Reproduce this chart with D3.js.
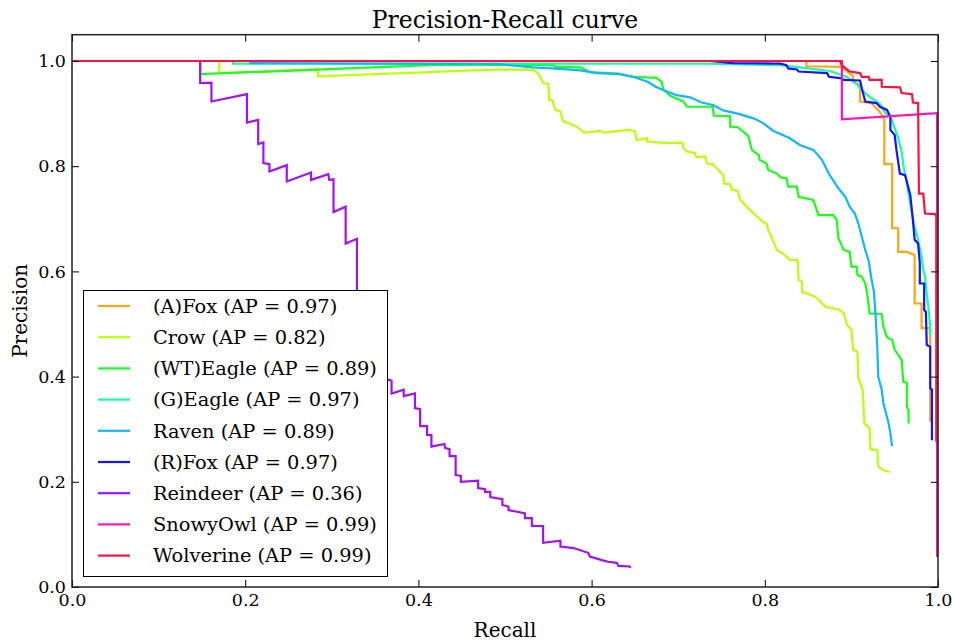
<!DOCTYPE html>
<html>
<head>
<meta charset="utf-8">
<script src="https://cdn.jsdelivr.net/npm/d3@7"></script>
<style>
  body { margin: 0; background: #fff; }
  text { font-family: "DejaVu Serif", serif; fill: #000; }
</style>
</head>
<body>
<svg id="chart" width="955" height="642"></svg>
<script>
// Per-class precision/recall curves (recall ascending along each curve)
const classNames = ["(A)Fox", "Crow", "(WT)Eagle", "(G)Eagle", "Raven", "(R)Fox", "Reindeer", "SnowyOwl", "Wolverine"];
const apScores = [0.97, 0.82, 0.89, 0.97, 0.89, 0.97, 0.36, 0.99, 0.99];
const classColors = ["#ffa512", "#bbff0a", "#1cff1c", "#14ffa6", "#12b6ff", "#1414ff", "#a012ff", "#ff12c4", "#ff1240"];

const recallAFox = [0, 0.848, 0.848, 0.889, 0.896, 0.902, 0.902, 0.910, 0.910, 0.923, 0.931, 0.938, 0.938, 0.947, 0.947, 0.954, 0.954, 0.964, 0.973, 0.973, 0.981, 0.981, 0.991, 0.991];
const precisionAFox = [1, 1, 0.990, 0.989, 0.979, 0.971, 0.960, 0.954, 0.923, 0.920, 0.907, 0.891, 0.804, 0.804, 0.682, 0.682, 0.637, 0.637, 0.631, 0.539, 0.539, 0.492, 0.492, 0.314];

const recallCrow = [0, 0.170, 0.170, 0.284, 0.284, 0.494, 0.532, 0.538, 0.544, 0.550, 0.551, 0.555, 0.558, 0.564, 0.567, 0.573, 0.583, 0.591, 0.610, 0.614, 0.642, 0.650, 0.652, 0.664, 0.664, 0.689, 0.705, 0.706, 0.710, 0.719, 0.721, 0.731, 0.733, 0.740, 0.752, 0.753, 0.760, 0.762, 0.769, 0.771, 0.781, 0.787, 0.798, 0.802, 0.804, 0.814, 0.818, 0.825, 0.829, 0.838, 0.839, 0.843, 0.843, 0.850, 0.858, 0.862, 0.868, 0.871, 0.885, 0.891, 0.895, 0.900, 0.902, 0.907, 0.908, 0.913, 0.915, 0.921, 0.922, 0.930, 0.931, 0.937, 0.944];
const precisionCrow = [1, 1, 0.977, 0.984, 0.971, 0.984, 0.983, 0.977, 0.958, 0.956, 0.926, 0.925, 0.907, 0.904, 0.885, 0.882, 0.875, 0.864, 0.867, 0.864, 0.869, 0.867, 0.850, 0.853, 0.847, 0.844, 0.845, 0.834, 0.828, 0.825, 0.817, 0.819, 0.805, 0.804, 0.783, 0.767, 0.766, 0.755, 0.753, 0.737, 0.720, 0.710, 0.694, 0.691, 0.679, 0.641, 0.637, 0.628, 0.622, 0.622, 0.584, 0.580, 0.561, 0.557, 0.552, 0.546, 0.536, 0.532, 0.528, 0.521, 0.498, 0.489, 0.451, 0.447, 0.397, 0.375, 0.311, 0.302, 0.262, 0.260, 0.229, 0.222, 0.219];

const recallWTEagle = [0, 0.148, 0.148, 0.413, 0.555, 0.558, 0.587, 0.598, 0.631, 0.646, 0.675, 0.681, 0.683, 0.692, 0.706, 0.710, 0.740, 0.741, 0.760, 0.760, 0.769, 0.781, 0.785, 0.793, 0.794, 0.802, 0.804, 0.814, 0.818, 0.825, 0.827, 0.837, 0.839, 0.856, 0.862, 0.879, 0.883, 0.885, 0.891, 0.898, 0.900, 0.906, 0.907, 0.912, 0.916, 0.918, 0.921, 0.935, 0.937, 0.941, 0.947, 0.950, 0.958, 0.960, 0.964, 0.964, 0.966, 0.966];
const precisionWTEagle = [1, 1, 0.975, 0.992, 0.993, 0.989, 0.988, 0.979, 0.976, 0.970, 0.968, 0.960, 0.945, 0.933, 0.923, 0.913, 0.913, 0.896, 0.895, 0.875, 0.874, 0.857, 0.831, 0.821, 0.812, 0.805, 0.793, 0.786, 0.779, 0.777, 0.761, 0.761, 0.742, 0.736, 0.707, 0.707, 0.698, 0.663, 0.641, 0.637, 0.609, 0.609, 0.593, 0.590, 0.577, 0.560, 0.520, 0.519, 0.495, 0.475, 0.470, 0.451, 0.432, 0.390, 0.388, 0.343, 0.336, 0.311];

const recallGEagle = [0, 0.186, 0.186, 0.733, 0.818, 0.875, 0.893, 0.904, 0.914, 0.921, 0.933, 0.939, 0.945, 0.948, 0.954, 0.958, 0.960, 0.964, 0.968, 0.972, 0.977, 0.981, 0.983, 0.985, 0.987, 0.989, 0.991, 0.991];
const precisionGEagle = [1, 1, 0.995, 0.995, 0.992, 0.981, 0.971, 0.960, 0.942, 0.932, 0.918, 0.901, 0.894, 0.882, 0.853, 0.828, 0.802, 0.767, 0.729, 0.691, 0.660, 0.628, 0.603, 0.590, 0.558, 0.530, 0.495, 0.479];

const recallRaven = [0, 0.206, 0.206, 0.494, 0.517, 0.532, 0.555, 0.587, 0.606, 0.633, 0.648, 0.664, 0.675, 0.687, 0.698, 0.714, 0.727, 0.741, 0.752, 0.771, 0.787, 0.798, 0.810, 0.818, 0.829, 0.841, 0.856, 0.866, 0.875, 0.885, 0.893, 0.898, 0.904, 0.908, 0.912, 0.916, 0.920, 0.923, 0.926, 0.928, 0.930, 0.931, 0.935, 0.937, 0.940, 0.943, 0.945, 0.947];
const precisionRaven = [1, 1, 0.996, 0.994, 0.990, 0.988, 0.986, 0.982, 0.977, 0.975, 0.970, 0.961, 0.950, 0.942, 0.935, 0.931, 0.921, 0.916, 0.906, 0.899, 0.891, 0.882, 0.867, 0.861, 0.853, 0.840, 0.831, 0.812, 0.783, 0.758, 0.742, 0.723, 0.710, 0.691, 0.666, 0.641, 0.620, 0.587, 0.561, 0.514, 0.451, 0.400, 0.375, 0.349, 0.330, 0.311, 0.292, 0.268];

const recallRFox = [0, 0.737, 0.763, 0.818, 0.825, 0.827, 0.837, 0.839, 0.872, 0.874, 0.889, 0.891, 0.910, 0.912, 0.916, 0.929, 0.933, 0.941, 0.945, 0.945, 0.950, 0.952, 0.956, 0.962, 0.964, 0.968, 0.971, 0.973, 0.977, 0.979, 0.979, 0.984, 0.984, 0.986, 0.987, 0.991, 0.991, 0.993, 0.993];
const precisionRFox = [1, 1, 0.996, 0.995, 0.992, 0.986, 0.984, 0.980, 0.977, 0.970, 0.967, 0.964, 0.963, 0.948, 0.923, 0.920, 0.913, 0.907, 0.894, 0.869, 0.859, 0.831, 0.786, 0.783, 0.771, 0.745, 0.698, 0.660, 0.653, 0.615, 0.577, 0.577, 0.527, 0.523, 0.460, 0.457, 0.378, 0.375, 0.279];

const recallReindeer = [0, 0.148, 0.148, 0.161, 0.161, 0.202, 0.202, 0.215, 0.215, 0.221, 0.221, 0.228, 0.228, 0.248, 0.248, 0.276, 0.276, 0.296, 0.297, 0.302, 0.302, 0.316, 0.316, 0.329, 0.329, 0.339, 0.339, 0.351, 0.351, 0.361, 0.361, 0.366, 0.369, 0.369, 0.383, 0.383, 0.396, 0.396, 0.402, 0.402, 0.410, 0.410, 0.415, 0.415, 0.430, 0.431, 0.436, 0.436, 0.443, 0.443, 0.449, 0.449, 0.469, 0.469, 0.477, 0.477, 0.483, 0.483, 0.497, 0.497, 0.504, 0.504, 0.514, 0.523, 0.523, 0.531, 0.531, 0.544, 0.544, 0.564, 0.564, 0.579, 0.596, 0.598, 0.612, 0.619, 0.629, 0.631, 0.644, 0.645];
const precisionReindeer = [1, 1, 0.958, 0.959, 0.923, 0.937, 0.883, 0.888, 0.842, 0.845, 0.806, 0.804, 0.790, 0.802, 0.771, 0.788, 0.774, 0.785, 0.774, 0.775, 0.713, 0.723, 0.653, 0.662, 0.546, 0.553, 0.489, 0.496, 0.428, 0.435, 0.392, 0.394, 0.392, 0.368, 0.375, 0.363, 0.368, 0.340, 0.338, 0.306, 0.306, 0.289, 0.289, 0.267, 0.272, 0.264, 0.262, 0.249, 0.249, 0.213, 0.211, 0.200, 0.202, 0.188, 0.186, 0.181, 0.181, 0.171, 0.167, 0.156, 0.153, 0.146, 0.143, 0.140, 0.131, 0.131, 0.116, 0.116, 0.084, 0.088, 0.077, 0.074, 0.065, 0.058, 0.051, 0.048, 0.046, 0.040, 0.039, 0.036];

const recallSnowyOwl = [0, 0.889, 0.889, 0.999, 0.999];
const precisionSnowyOwl = [1, 1, 0.889, 0.901, 0.057];

const recallWolverine = [0, 0.887, 0.889, 0.898, 0.910, 0.912, 0.920, 0.921, 0.935, 0.935, 0.956, 0.958, 0.970, 0.971, 0.977, 0.978, 0.983, 0.985, 0.997, 0.998, 0.998];
const precisionWolverine = [1, 1, 0.992, 0.980, 0.977, 0.970, 0.970, 0.964, 0.964, 0.951, 0.950, 0.939, 0.937, 0.921, 0.920, 0.748, 0.748, 0.710, 0.709, 0.704, 0.276];

const xTicks = [0, 0.2, 0.4, 0.6, 0.8, 1.0];
const yTicks = [0, 0.2, 0.4, 0.6, 0.8, 1.0];

const recallLists = [recallAFox, recallCrow, recallWTEagle, recallGEagle, recallRaven, recallRFox, recallReindeer, recallSnowyOwl, recallWolverine];
const precisionLists = [precisionAFox, precisionCrow, precisionWTEagle, precisionGEagle, precisionRaven, precisionRFox, precisionReindeer, precisionSnowyOwl, precisionWolverine];

const series = classNames.map((name, i) => ({
  name,
  ap: apScores[i],
  color: classColors[i],
  points: recallLists[i].map((r, j) => ({ r, p: precisionLists[i][j] }))
}));

const svg = d3.select("#chart");
const plotLeft = 72, plotRight = 938, plotTop = 34.7, plotBottom = 587;

const x = d3.scaleLinear().domain([0, 1]).range([plotLeft, plotRight]);
const y = d3.scaleLinear().domain([0, 1.05]).range([plotBottom, plotTop]);

// curves
const line = d3.line().x(d => x(d.r)).y(d => y(d.p));
svg.append("g").selectAll("path")
  .data(series)
  .join("path")
  .attr("d", d => line(d.points))
  .attr("fill", "none")
  .attr("stroke", d => d.color)
  .attr("stroke-width", 2.2);

// axes with inward ticks on all four sides
const fmt = d3.format(".1f");
const axisStyle = g => {
  g.select(".domain").remove();
  g.selectAll(".tick line").attr("stroke", "#000").attr("stroke-width", 1);
  g.selectAll(".tick text").attr("font-family", "DejaVu Serif").attr("font-size", 17.5).attr("fill", "#000");
};
svg.append("g").attr("transform", `translate(0,${plotBottom})`)
  .call(d3.axisBottom(x).tickValues(xTicks).tickFormat(fmt).tickSize(-7).tickPadding(7))
  .call(axisStyle);
svg.append("g").attr("transform", `translate(0,${plotTop})`)
  .call(d3.axisTop(x).tickValues(xTicks).tickFormat("").tickSize(-7))
  .call(axisStyle);
svg.append("g").attr("transform", `translate(${plotLeft},0)`)
  .call(d3.axisLeft(y).tickValues(yTicks).tickFormat(fmt).tickSize(-7).tickPadding(6))
  .call(axisStyle);
svg.append("g").attr("transform", `translate(${plotRight},0)`)
  .call(d3.axisRight(y).tickValues(yTicks).tickFormat("").tickSize(-7))
  .call(axisStyle);

// frame
svg.append("rect")
  .attr("x", plotLeft).attr("y", plotTop)
  .attr("width", plotRight - plotLeft).attr("height", plotBottom - plotTop)
  .attr("fill", "none").attr("stroke", "#222").attr("stroke-width", 1.5);

// titles
svg.append("text")
  .attr("x", (plotLeft + plotRight) / 2).attr("y", 28)
  .attr("text-anchor", "middle").attr("font-size", 23.5)
  .text("Precision-Recall curve");
svg.append("text")
  .attr("x", (plotLeft + plotRight) / 2).attr("y", 637)
  .attr("text-anchor", "middle").attr("font-size", 20)
  .text("Recall");
svg.append("text")
  .attr("transform", `translate(27,${(plotTop + plotBottom) / 2}) rotate(-90)`)
  .attr("text-anchor", "middle").attr("font-size", 20)
  .text("Precision");

// legend
const legend = svg.append("g");
legend.append("rect")
  .attr("x", 83.5).attr("y", 290.5).attr("width", 304).attr("height", 286)
  .attr("fill", "#fff").attr("stroke", "#000").attr("stroke-width", 1);
const rowY = i => 306 + i * 31.2;
const items = legend.selectAll("g.item").data(series).join("g").attr("class", "item");
items.append("line")
  .attr("x1", 98).attr("x2", 130)
  .attr("y1", (d, i) => rowY(i)).attr("y2", (d, i) => rowY(i))
  .attr("stroke", d => d.color).attr("stroke-width", 2.2);
items.append("text")
  .attr("x", 153).attr("y", (d, i) => rowY(i))
  .attr("dy", "0.35em").attr("font-size", 19.4)
  .text(d => `${d.name} (AP = ${d.ap.toFixed(2)})`);
</script>
</body>
</html>
